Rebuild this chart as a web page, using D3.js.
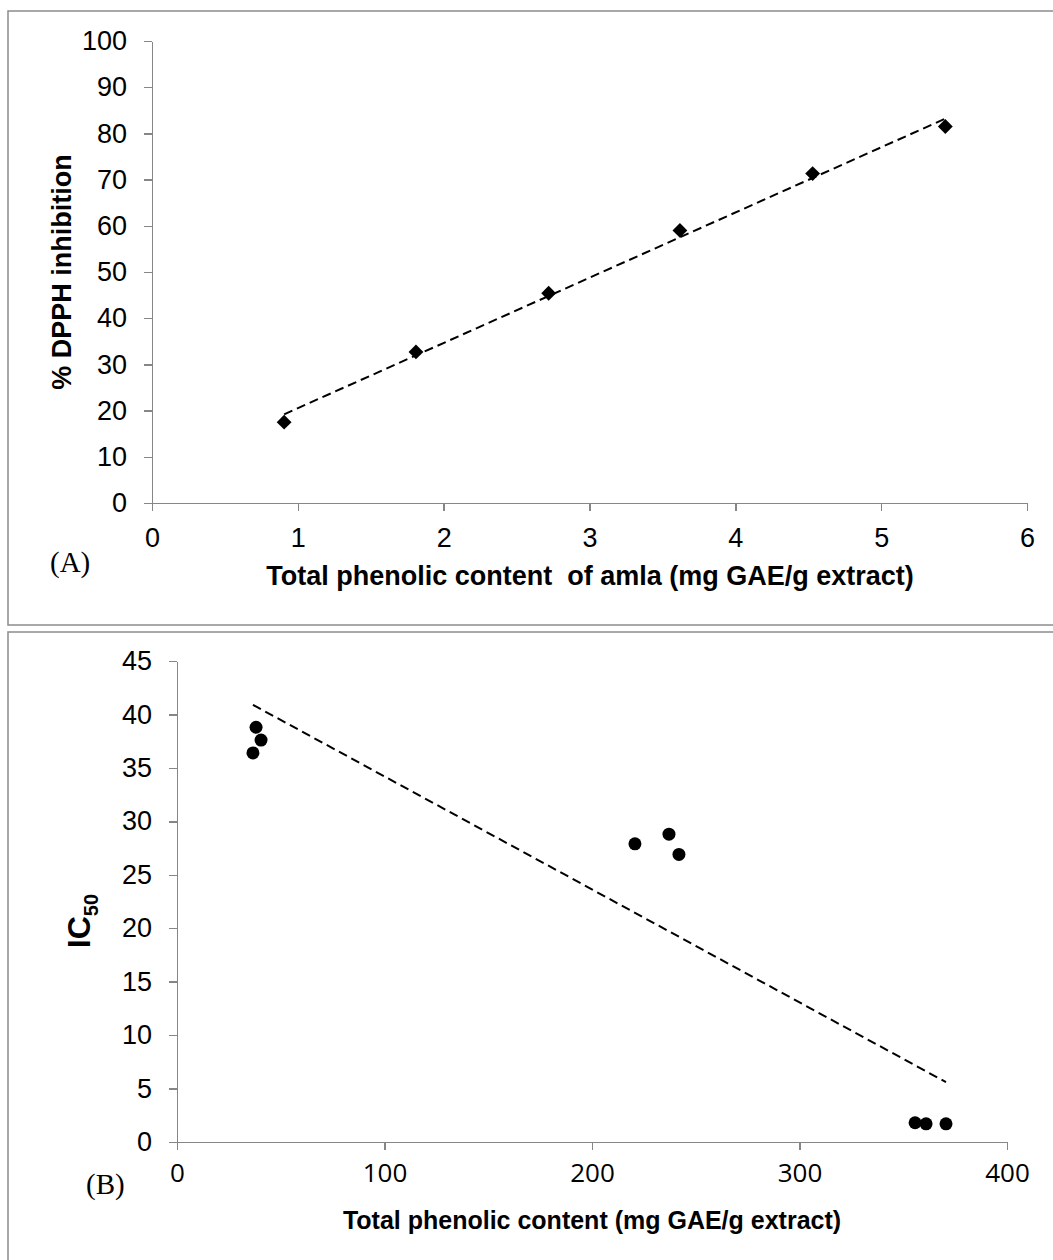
<!DOCTYPE html>
<html>
<head>
<meta charset="utf-8">
<script src="https://cdn.jsdelivr.net/npm/d3@7"></script>
<style>
  html, body { margin: 0; padding: 0; background: #fff; }
  svg { display: block; }
  .axis path, .axis line { stroke: #868686; stroke-width: 1.5; shape-rendering: crispEdges; }
  .axis text { fill: #000; }
</style>
</head>
<body>
<svg id="chart" width="1053" height="1260"></svg>
<script>
// Panel A: total phenolic content of amla vs % DPPH inhibition
const phenolA = [0.906, 1.81, 2.72, 3.62, 4.53, 5.44];
const dpphA = [17.5, 32.7, 45.4, 59.0, 71.3, 81.5];
const trendA = [[0.906, 19.2], [5.44, 83.2]];
const xTicksA = [0, 1, 2, 3, 4, 5, 6];
const yTicksA = [0, 10, 20, 30, 40, 50, 60, 70, 80, 90, 100];

// Panel B: total phenolic content vs IC50
const phenolB = [38.1, 40.5, 36.6, 220.7, 237.1, 241.9, 355.7, 361.0, 370.6];
const ic50B = [38.8, 37.6, 36.4, 27.9, 28.8, 26.9, 1.8, 1.7, 1.7];
const trendB = [[36.6, 40.9], [370.6, 5.6]];
const xTicksB = [0, 100, 200, 300, 400];
const yTicksB = [0, 5, 10, 15, 20, 25, 30, 35, 40, 45];

const svg = d3.select("#chart");
const sans = "'Liberation Sans', Arial, sans-serif";
const serif = "'Liberation Serif', 'Times New Roman', serif";

// panel frames
svg.append("rect").attr("x", 8).attr("y", 11).attr("width", 1060).attr("height", 614)
  .attr("fill", "none").attr("stroke", "#8c8c8c").attr("stroke-width", 1.5);
svg.append("rect").attr("x", 8).attr("y", 632).attr("width", 1060).attr("height", 650)
  .attr("fill", "none").attr("stroke", "#8c8c8c").attr("stroke-width", 1.5);

// ---------- Panel A ----------
const xA = d3.scaleLinear().domain([0, 6]).range([152, 1027]);
const yA = d3.scaleLinear().domain([0, 100]).range([503, 41]);

const gA = svg.append("g");
gA.append("g").attr("class", "axis").attr("transform", `translate(0,${yA(0)})`)
  .call(d3.axisBottom(xA).tickValues(xTicksA).tickSize(8).tickSizeOuter(0).tickPadding(17).tickFormat(d3.format("d")))
  .call(g => g.selectAll("text").attr("font-family", sans).attr("font-size", 27));
gA.append("g").attr("class", "axis").attr("transform", `translate(${xA(0)},0)`)
  .call(d3.axisLeft(yA).tickValues(yTicksA).tickSize(8).tickSizeOuter(0).tickPadding(17).tickFormat(d3.format("d")))
  .call(g => g.selectAll("text").attr("font-family", sans).attr("font-size", 27));

gA.append("line")
  .attr("x1", xA(trendA[0][0])).attr("y1", yA(trendA[0][1]))
  .attr("x2", xA(trendA[1][0])).attr("y2", yA(trendA[1][1]))
  .attr("stroke", "#000").attr("stroke-width", 2).attr("stroke-dasharray", "9,5");

gA.selectAll("path.pt").data(phenolA).join("path")
  .attr("class", "pt")
  .attr("d", d3.symbol().type(d3.symbolSquare).size(110))
  .attr("transform", (d, i) => `translate(${xA(d)},${yA(dpphA[i])}) rotate(45)`)
  .attr("fill", "#000");

gA.append("text").attr("transform", "translate(71,272) rotate(-90)")
  .attr("text-anchor", "middle").attr("font-family", sans).attr("font-weight", "bold")
  .attr("font-size", 27).text("% DPPH inhibition");
gA.append("text").attr("x", 590).attr("y", 585)
  .attr("text-anchor", "middle").attr("font-family", sans).attr("font-weight", "bold")
  .attr("font-size", 27).attr("xml:space", "preserve").text("Total phenolic content  of amla (mg GAE/g extract)");
gA.append("text").attr("x", 50).attr("y", 572)
  .attr("font-family", serif).attr("font-size", 29).text("(A)");

// ---------- Panel B ----------
const xB = d3.scaleLinear().domain([0, 400]).range([177, 1007]);
const yB = d3.scaleLinear().domain([0, 45]).range([1142, 661]);

const gB = svg.append("g");
gB.append("g").attr("class", "axis").attr("transform", `translate(0,${yB(0)})`)
  .call(d3.axisBottom(xB).tickValues(xTicksB).tickSize(8).tickSizeOuter(0).tickPadding(14).tickFormat(d3.format("d")))
  .call(g => g.selectAll("text").attr("font-family", "'Open Sans', sans-serif").attr("font-size", 26));
gB.append("g").attr("class", "axis").attr("transform", `translate(${xB(0)},0)`)
  .call(d3.axisLeft(yB).tickValues(yTicksB).tickSize(8).tickSizeOuter(0).tickPadding(17).tickFormat(d3.format("d")))
  .call(g => g.selectAll("text").attr("font-family", sans).attr("font-size", 27));

gB.append("line")
  .attr("x1", xB(trendB[0][0])).attr("y1", yB(trendB[0][1]))
  .attr("x2", xB(trendB[1][0])).attr("y2", yB(trendB[1][1]))
  .attr("stroke", "#000").attr("stroke-width", 2).attr("stroke-dasharray", "9,5");

gB.selectAll("circle.pt").data(phenolB).join("circle")
  .attr("class", "pt")
  .attr("cx", d => xB(d)).attr("cy", (d, i) => yB(ic50B[i]))
  .attr("r", 6.5).attr("fill", "#000");

const ic = gB.append("text").attr("transform", "translate(90,921) rotate(-90)")
  .attr("text-anchor", "middle").attr("font-family", sans).attr("font-weight", "bold")
  .attr("font-size", 32);
ic.append("tspan").text("IC");
ic.append("tspan").attr("font-size", 20).attr("dy", 8).text("50");

gB.append("text").attr("x", 592).attr("y", 1229)
  .attr("text-anchor", "middle").attr("font-family", sans).attr("font-weight", "bold")
  .attr("font-size", 25).text("Total phenolic content (mg GAE/g extract)");
gB.append("text").attr("x", 86).attr("y", 1194)
  .attr("font-family", serif).attr("font-size", 29).text("(B)");
</script>
</body>
</html>
